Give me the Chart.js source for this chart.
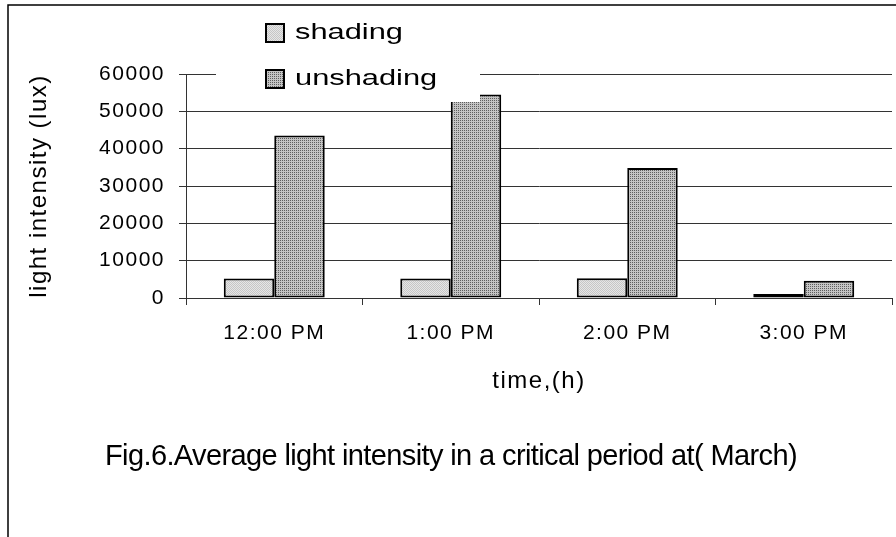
<!DOCTYPE html>
<html lang="en">
<head>
<meta charset="UTF-8">
<title>Average light intensity in a critical period (March)</title>
<script src="https://cdn.jsdelivr.net/npm/chart.js"></script>
<style>
  html, body { margin: 0; padding: 0; background: #fff; }
  canvas { display: block; }
</style>
</head>
<body>
<canvas id="chart" width="896" height="537"></canvas>
<script>
  // values (lux)
  const times = ['12:00 PM', '1:00 PM', '2:00 PM', '3:00 PM'];
  const shading = [5200, 5200, 5300, 1100];
  const unshading = [43500, 54500, 34800, 4600];
  const yTicks = [0, 10000, 20000, 30000, 40000, 50000, 60000];
  const caption = 'Fig.6.Average light intensity in a critical period at( March)';

  const FONT = '"Liberation Sans", Arial, sans-serif';
  Chart.defaults.font.family = FONT;
  Chart.defaults.color = '#000';

  const canvas = document.getElementById('chart');
  const ctx = canvas.getContext('2d');

  // tiny 2x2 fill textures, like the old excel dotted fills
  function dots(colors) {
    const c = document.createElement('canvas');
    c.width = 2; c.height = 2;
    const g = c.getContext('2d');
    colors.forEach((col, i) => {
      g.fillStyle = col;
      g.fillRect(i % 2, Math.floor(i / 2), 1, 1);
    });
    return ctx.createPattern(c, 'repeat');
  }
  const shadeFill = dots(['#c6c6c6', '#e6e6e6', '#e6e6e6', '#c6c6c6']);
  const unshadeFill = dots(['#5e5e5e', '#c4c4c4', '#c4c4c4', '#c4c4c4']);

  const frame = {
    id: 'frame',
    beforeDraw(chart) {
      const c = chart.ctx;
      c.letterSpacing = '1.5px';
      c.save();
      c.strokeStyle = '#000';
      c.lineWidth = 1.5;
      c.beginPath();
      c.moveTo(8, 537);
      c.lineTo(8, 5);
      c.lineTo(896, 5);
      c.stroke();
      c.restore();
    }
  };

  const boxLegend = {
    id: 'boxLegend',
    afterDraw(chart) {
      const c = chart.ctx;
      c.save();
      c.letterSpacing = '0px';
      // legend sits on a white box over the top gridline
      c.fillStyle = '#fff';
      c.fillRect(216, 10, 264, 92);
      c.font = '22px ' + FONT;
      c.textBaseline = 'middle';
      chart.data.datasets.forEach((ds, i) => {
        const y = 33 + i * 46;
        c.fillStyle = ds.backgroundColor;
        c.fillRect(266, y - 9, 18, 18);
        c.strokeStyle = '#000';
        c.lineWidth = 2;
        c.strokeRect(266, y - 9, 18, 18);
        c.save();
        c.translate(295, y);
        c.scale(1.4, 1);
        c.fillStyle = '#000';
        c.fillText(ds.label, 0, 0);
        c.restore();
      });

      // figure caption, squeezed like the original
      c.font = '29px ' + FONT;
      c.textBaseline = 'alphabetic';
      const w = c.measureText(caption).width;
      c.letterSpacing = ((692 - w) / caption.length) + 'px';
      c.fillStyle = '#000';
      c.fillText(caption, 105, 465);
      c.restore();
    }
  };

  new Chart(canvas, {
    type: 'bar',
    data: {
      labels: times,
      datasets: [
        { label: 'shading', data: shading, backgroundColor: shadeFill,
          borderColor: '#000', borderWidth: 2, borderSkipped: false },
        { label: 'unshading', data: unshading, backgroundColor: unshadeFill,
          borderColor: '#000', borderWidth: 2, borderSkipped: false }
      ]
    },
    options: {
      responsive: false,
      animation: false,
      layout: { padding: { left: 0, top: 74, right: 4, bottom: 139 } },
      datasets: { bar: { categoryPercentage: 0.572, barPercentage: 1 } },
      plugins: {
        legend: { display: false },
        tooltip: { enabled: false }
      },
      scales: {
        x: {
          grid: { display: true, drawOnChartArea: false, drawTicks: true, tickLength: 7, color: '#333', offset: true },
          border: { display: true, color: '#333', width: 1 },
          ticks: { font: { size: 21 }, padding: 16, maxRotation: 0 },
          title: { display: true, text: 'time,(h)', font: { size: 24 }, padding: { top: 0, bottom: 2 } },
          afterFit(s) { s.height = 100; }
        },
        y: {
          min: 0,
          max: 60000,
          afterBuildTicks(s) { s.ticks = yTicks.map(v => ({ value: v })); },
          grid: { color: '#333', lineWidth: 1, tickLength: 7 },
          border: { display: true, color: '#333', width: 1 },
          ticks: { font: { size: 21 }, padding: 14, callback: v => String(v) },
          title: { display: true, text: 'light intensity (lux)', font: { size: 24 }, padding: { top: 25, bottom: 0 } },
          afterFit(s) { s.width = 186; }
        }
      }
    },
    plugins: [frame, boxLegend]
  });
</script>
</body>
</html>
